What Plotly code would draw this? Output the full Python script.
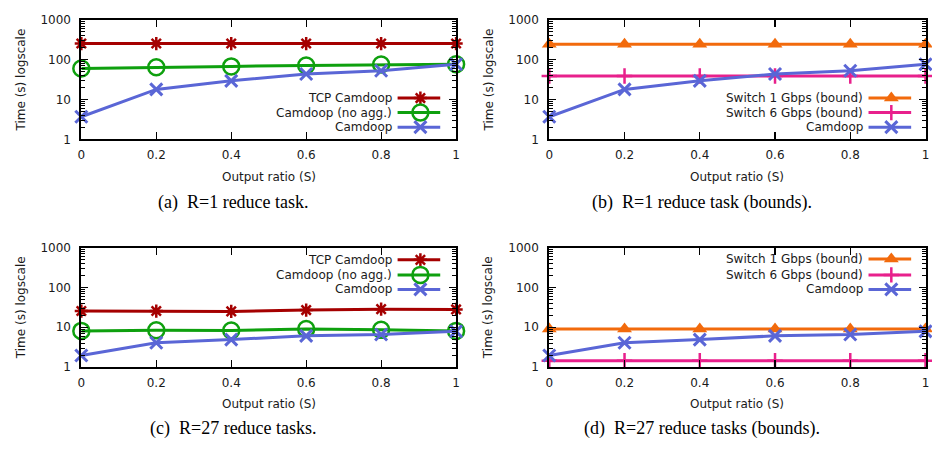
import plotly.graph_objects as go

W, H = 932, 449

# ---------------- data ----------------
output_ratio = [0, 0.2, 0.4, 0.6, 0.8, 1.0]
x_tick_labels = ["0", "0.2", "0.4", "0.6", "0.8", "1"]
y_tick_vals = [1, 10, 100, 1000]
y_tick_labels = ["1", "10", "100", "1000"]

# (a) R=1 reduce task
a_tcp_camdoop = [255, 255, 255, 255, 255, 255]
a_camdoop_noagg = [60, 65, 68, 72, 76, 77]
a_camdoop = [3.7, 18, 29.5, 44, 53, 77]

# (b) R=1 reduce task (bounds)
b_switch1 = [245, 245, 245, 245, 245, 245]
b_switch6 = [39, 39, 39, 39, 39, 39]
b_camdoop = [3.7, 18, 29.5, 44, 53, 77]

# (c) R=27 reduce tasks
c_tcp_camdoop = [25.5, 25.5, 25, 27, 28.5, 28]
c_camdoop_noagg = [8.1, 8.4, 8.3, 9.0, 8.6, 8.1]
c_camdoop = [1.95, 4.1, 4.9, 6.1, 6.6, 7.9]

# (d) R=27 reduce tasks (bounds)
d_switch1 = [9.1, 9.1, 9.1, 9.1, 9.1, 9.1]
d_switch6 = [1.45, 1.45, 1.45, 1.45, 1.45, 1.45]
d_camdoop = [1.95, 4.1, 4.9, 6.1, 6.6, 7.9]

captions = ["(a)\u00a0\u00a0R=1 reduce task.",
            "(b)\u00a0\u00a0R=1 reduce task (bounds).",
            "(c)\u00a0\u00a0R=27 reduce tasks.",
            "(d)\u00a0\u00a0R=27 reduce tasks (bounds)."]

# ---------------- styles ----------------
RED = "#a50000"
GREEN = "#0ea00e"
BLUE = "#5a66d6"
ORANGE = "#f26a0c"
PINK = "#e8208c"

STY = {
    "TCP Camdoop": dict(color=RED, symbol="asterisk-open", size=11, mlw=2.5),
    "Camdoop (no agg.)": dict(color=GREEN, symbol="circle-open", size=16, mlw=2.5),
    "Camdoop": dict(color=BLUE, symbol="x-thin-open", size=12, mlw=3),
    "Switch 1 Gbps (bound)": dict(color=ORANGE, symbol="triangle-up", size=13, mlw=0),
    "Switch 6 Gbps (bound)": dict(color=PINK, symbol="cross-thin-open", size=11, mlw=2.5),
}

panels = [
    dict(series=[("TCP Camdoop", a_tcp_camdoop), ("Camdoop (no agg.)", a_camdoop_noagg), ("Camdoop", a_camdoop)],
         px=(78, 456), py=(13.3, 136.7), legend_y=(94, 109, 124), legend_right=393, cap_x=231, cap_y=202),
    dict(series=[("Switch 1 Gbps (bound)", b_switch1), ("Switch 6 Gbps (bound)", b_switch6), ("Camdoop", b_camdoop)],
         px=(550, 929.5), py=(13.3, 136.7), legend_y=(94, 109, 124), legend_right=868, cap_x=704, cap_y=202),
    dict(series=[("TCP Camdoop", c_tcp_camdoop), ("Camdoop (no agg.)", c_camdoop_noagg), ("Camdoop", c_camdoop)],
         px=(78, 456), py=(248.3, 371.7), legend_y=(261, 276.5, 291.5), legend_right=393, cap_x=231, cap_y=435),
    dict(series=[("Switch 1 Gbps (bound)", d_switch1), ("Switch 6 Gbps (bound)", d_switch6), ("Camdoop", d_camdoop)],
         px=(550, 929.5), py=(248.3, 371.7), legend_y=(260, 276.5, 291.5), legend_right=868, cap_x=704, cap_y=435),
]

fig = go.Figure()
annotations = []
minor_vals = [m * 10 ** e for e in range(3) for m in range(2, 10)]
TICKFONT = dict(family="DejaVu Sans", size=12, color="#1a1a1a")
layout = {}

for i, p in enumerate(panels):
    n = i + 1
    xa = "x" if n == 1 else f"x{n}"
    ya = "y" if n == 1 else f"y{n}"
    xkey = "xaxis" if n == 1 else f"xaxis{n}"
    ykey = "yaxis" if n == 1 else f"yaxis{n}"
    x0, x1 = p["px"]
    y0, y1 = p["py"]
    layout[xkey] = dict(
        domain=[x0 / W, x1 / W], anchor=ya, range=[0, 1],
        tickvals=output_ratio, ticktext=x_tick_labels,
        ticks="inside", ticklen=7, tickwidth=1.2, tickcolor="black",
        showline=True, linecolor="black", linewidth=2, mirror="allticks",
        showgrid=False, zeroline=False, tickfont=TICKFONT, ticklabelstandoff=3,
    )
    layout[ykey] = dict(
        domain=[1 - y1 / H, 1 - y0 / H], anchor=xa, type="log", range=[0, 3],
        tickvals=y_tick_vals, ticktext=y_tick_labels,
        ticks="inside", ticklen=7, tickwidth=1.2, tickcolor="black",
        minor=dict(tickvals=minor_vals, ticks="inside", ticklen=4, tickwidth=1, tickcolor="black", showgrid=False),
        showline=True, linecolor="black", linewidth=2, mirror="allticks",
        showgrid=False, zeroline=False, tickfont=TICKFONT, ticklabelstandoff=6,
    )
    for name, vals in p["series"]:
        s = STY[name]
        fig.add_trace(go.Scatter(
            x=output_ratio, y=vals, mode="lines+markers", name=name, showlegend=False,
            xaxis=xa, yaxis=ya, cliponaxis=False,
            line=dict(color=s["color"], width=3),
            marker=dict(symbol=s["symbol"], size=s["size"], color=s["color"],
                        line=dict(color=s["color"], width=s["mlw"])),
        ))
    # axis titles
    cx = (x0 + x1) / 2
    annotations.append(dict(text="Output ratio (S)", x=cx / W, y=1 - (y1 + 38.5) / H, xref="paper", yref="paper",
                            showarrow=False, font=dict(family="DejaVu Sans", size=12, color="#1a1a1a"),
                            xanchor="center", yanchor="middle"))
    annotations.append(dict(text="Time (s) logscale", x=(x0 - 61) / W, y=1 - ((y0 + y1) / 2) / H,
                            xref="paper", yref="paper", showarrow=False, textangle=-90,
                            font=dict(family="DejaVu Sans", size=12, color="#1a1a1a"),
                            xanchor="center", yanchor="middle"))
    annotations.append(dict(text=captions[i], x=p["cap_x"] / W, y=1 - p["cap_y"] / H, xref="paper", yref="paper",
                            showarrow=False, font=dict(family="Liberation Serif", size=18, color="black"),
                            xanchor="center", yanchor="middle"))
    # custom gnuplot-style legend: right-aligned text, sample on the right
    lr = p["legend_right"]
    for (name, _), ly in zip(p["series"], p["legend_y"]):
        s = STY[name]
        annotations.append(dict(text=name, x=lr / W, y=1 - ly / H, xref="paper", yref="paper",
                                showarrow=False, font=dict(family="DejaVu Sans", size=12, color="#1a1a1a"),
                                xanchor="right", yanchor="middle"))
        fig.add_trace(go.Scatter(
            x=[lr + 4, lr + 47], y=[ly, ly], mode="lines", showlegend=False, hoverinfo="skip",
            xaxis="x5", yaxis="y5", line=dict(color=s["color"], width=3)))
        fig.add_trace(go.Scatter(
            x=[lr + 27], y=[ly], mode="markers", showlegend=False, hoverinfo="skip",
            xaxis="x5", yaxis="y5",
            marker=dict(symbol=s["symbol"], size=s["size"], color=s["color"],
                        line=dict(color=s["color"], width=s["mlw"]))))

layout["xaxis5"] = dict(domain=[0, 1], range=[0, W], visible=False, anchor="y5")
layout["yaxis5"] = dict(domain=[0, 1], range=[H, 0], visible=False, anchor="x5")

fig.update_layout(
    width=W, height=H, margin=dict(l=0, r=0, t=0, b=0),
    paper_bgcolor="white", plot_bgcolor="rgba(0,0,0,0)",
    annotations=annotations, showlegend=False, hovermode=False,
    **layout,
)

fig.write_html(
    "out.html",
    config={"displayModeBar": False, "staticPlot": True},
    post_script="document.body.style.margin='0';document.body.style.padding='0';"
                "document.body.style.overflow='hidden';",
)
